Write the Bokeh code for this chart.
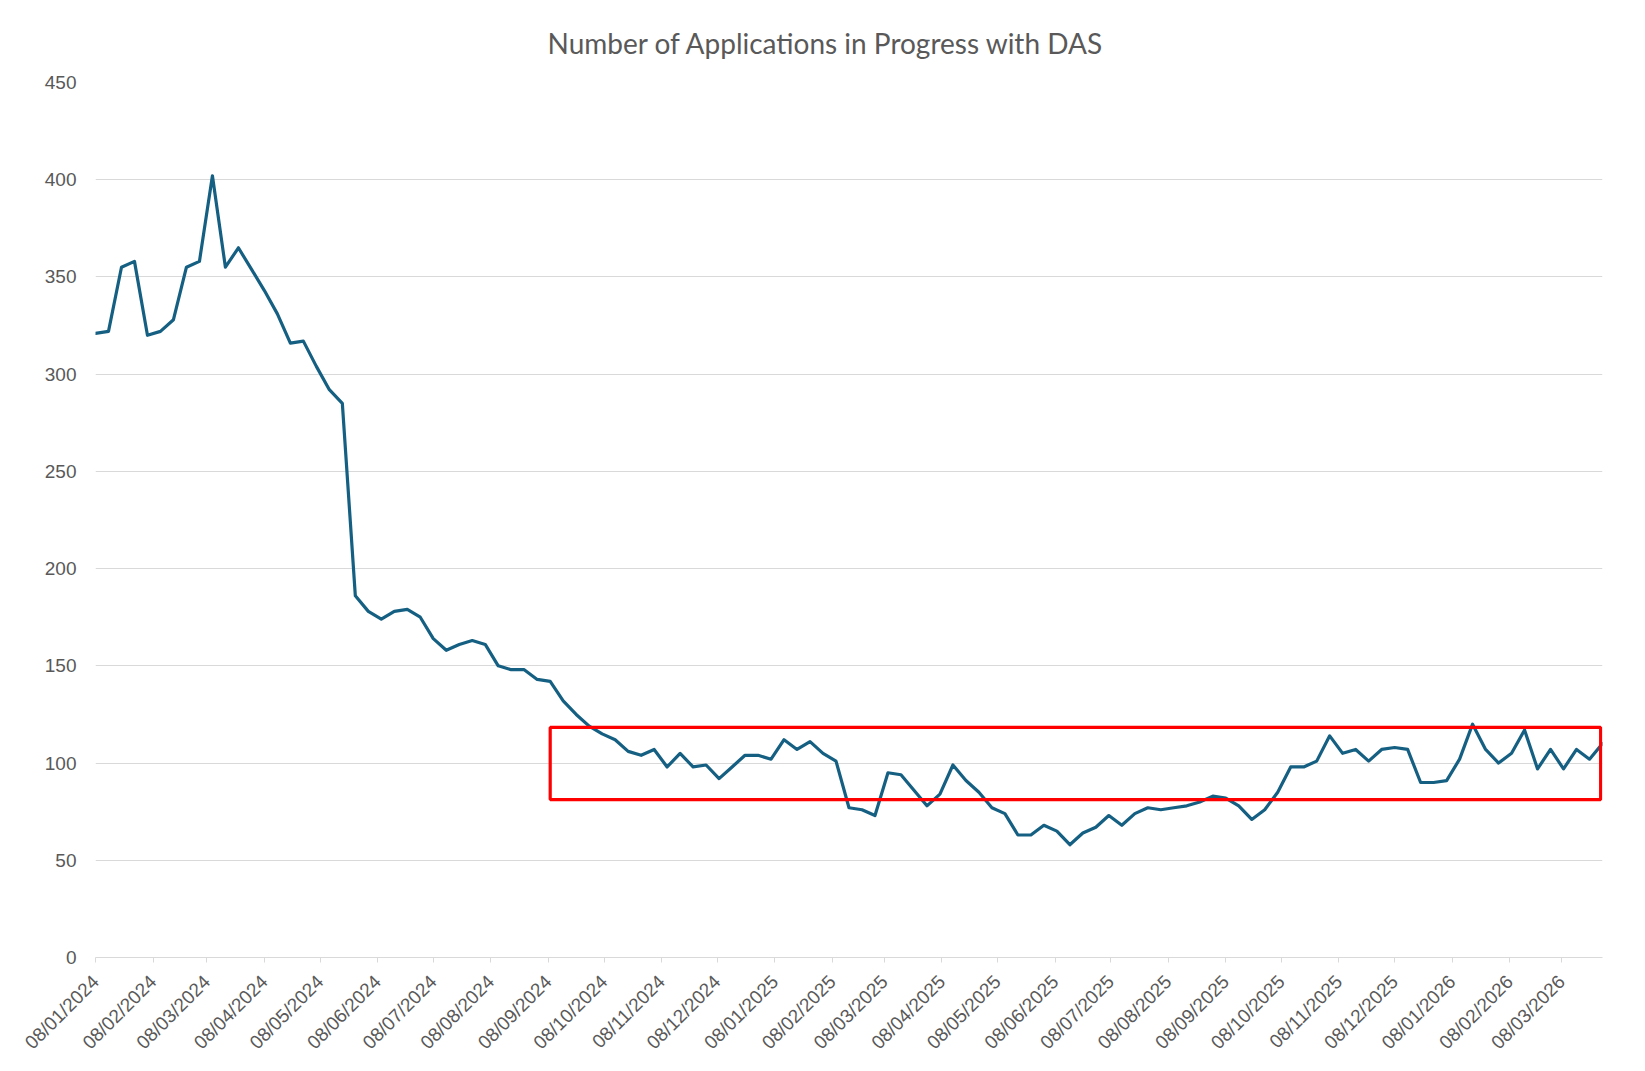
import math
import pandas as pd
from bokeh.plotting import figure
from bokeh.models import (Range1d, FixedTicker, DatetimeTickFormatter, BoxAnnotation,
                          ColumnDataSource)
from bokeh.embed import file_html
from bokeh.resources import INLINE

# ---------------- data ----------------
title_text = "Number of Applications in Progress with DAS"
first_week = "2024-01-08"   # weekly observations (Mondays)
applications = [
    321, 322, 355, 358, 320, 322, 328, 355, 358, 402,
    355, 365, 354, 343, 331, 316, 317, 304, 292, 285,
    186, 178, 174, 178, 179, 175, 164, 158, 161, 163,
    161, 150, 148, 148, 143, 142, 132, 125, 119, 115,
    112, 106, 104, 107, 98, 105, 98, 99, 92, 98,
    104, 104, 102, 112, 107, 111, 105, 101, 77, 76,
    73, 95, 94, 86, 78, 84, 99, 91, 85, 77,
    74, 63, 63, 68, 65, 58, 64, 67, 73, 68,
    74, 77, 76, 77, 78, 80, 83, 82, 78, 71,
    76, 85, 98, 98, 101, 114, 105, 107, 101, 107,
    108, 107, 90, 90, 91, 102, 120, 107, 100, 105,
    117, 97, 107, 97, 107, 102, 110,
]
tick_labels = [
    "08/01/2024", "08/02/2024", "08/03/2024", "08/04/2024", "08/05/2024", "08/06/2024",
    "08/07/2024", "08/08/2024", "08/09/2024", "08/10/2024", "08/11/2024", "08/12/2024",
    "08/01/2025", "08/02/2025", "08/03/2025", "08/04/2025", "08/05/2025", "08/06/2025",
    "08/07/2025", "08/08/2025", "08/09/2025", "08/10/2025", "08/11/2025", "08/12/2025",
    "08/01/2026", "08/02/2026", "08/03/2026",
]
y_ticks = [0, 50, 100, 150, 200, 250, 300, 350, 400, 450]
highlight_dates = ["2024-09-09", "2026-03-29"]
highlight_values = [81.2, 118.3]

# ---------------- build ----------------
dates = pd.date_range(first_week, periods=len(applications), freq="7D")
src = ColumnDataSource(dict(date=dates, value=applications))

tick_dt = pd.to_datetime(tick_labels, format="%d/%m/%Y")
tick_ms = [int(t.value // 10**6) for t in tick_dt]

def ms(d):
    return int(pd.Timestamp(d).value // 10**6)

W, H = 1629, 1063
p = figure(width=W, height=H, x_axis_type="datetime", output_backend="svg",
           toolbar_location=None, tools="",
           x_range=Range1d(ms(dates[0]), ms(dates[-1])),
           y_range=Range1d(y_ticks[0], y_ticks[-1]),
           min_border_left=95, min_border_right=27, min_border_top=82, min_border_bottom=97)
p.background_fill_color = "white"
p.border_fill_color = "white"
p.outline_line_color = None

TXT = "#595959"
GRID = "#d9d9d9"

# title
p.title.text = title_text
p.title.align = "left"
p.title.offset = 452
p.title.text_font = "Lato"
p.title.text_font_size = "28px"
p.title.text_font_style = "normal"
p.title.text_color = TXT
p.title.standoff = 46

# x axis
xa = p.xaxis[0]
xa.ticker = FixedTicker(ticks=tick_ms)
fmt = "%d/%m/%Y"
xa.formatter = DatetimeTickFormatter(days=fmt, months=fmt, years=fmt, hours=fmt,
                                     hourmin=fmt, minutes=fmt, minsec=fmt, seconds=fmt,
                                     milliseconds=fmt, microseconds=fmt)
xa.major_label_overrides = {m: lab for m, lab in zip(tick_ms, tick_labels)}
xa.major_label_orientation = math.pi / 4
xa.major_label_text_font = "Liberation Sans"
xa.major_label_text_font_size = "19px"
xa.major_label_text_color = TXT
xa.axis_line_color = GRID
xa.axis_line_width = 1
xa.major_tick_line_color = GRID
xa.major_tick_in = 0
xa.major_tick_out = 5
xa.minor_tick_line_color = None
xa.major_label_standoff = 16

# y axis
ya = p.yaxis[0]
ya.ticker = FixedTicker(ticks=y_ticks)
ya.major_label_text_font = "Liberation Sans"
ya.major_label_text_font_size = "19px"
ya.major_label_text_color = TXT
ya.axis_line_color = None
ya.major_tick_line_color = None
ya.major_tick_out = 0
ya.major_tick_in = 0
ya.minor_tick_line_color = None
ya.major_label_standoff = 19

p.xgrid.grid_line_color = None
p.ygrid.grid_line_color = GRID
p.ygrid.grid_line_width = 1

p.line("date", "value", source=src, line_color="#156082", line_width=3.2,
       line_join="round", line_cap="round")

p.add_layout(BoxAnnotation(left=ms(highlight_dates[0]), right=ms(highlight_dates[1]),
                           bottom=highlight_values[0], top=highlight_values[1],
                           fill_color=None, fill_alpha=0, line_color="#FF0000",
                           line_alpha=1.0, line_width=3.2))

open("out.html", "w").write(file_html(p, INLINE))
